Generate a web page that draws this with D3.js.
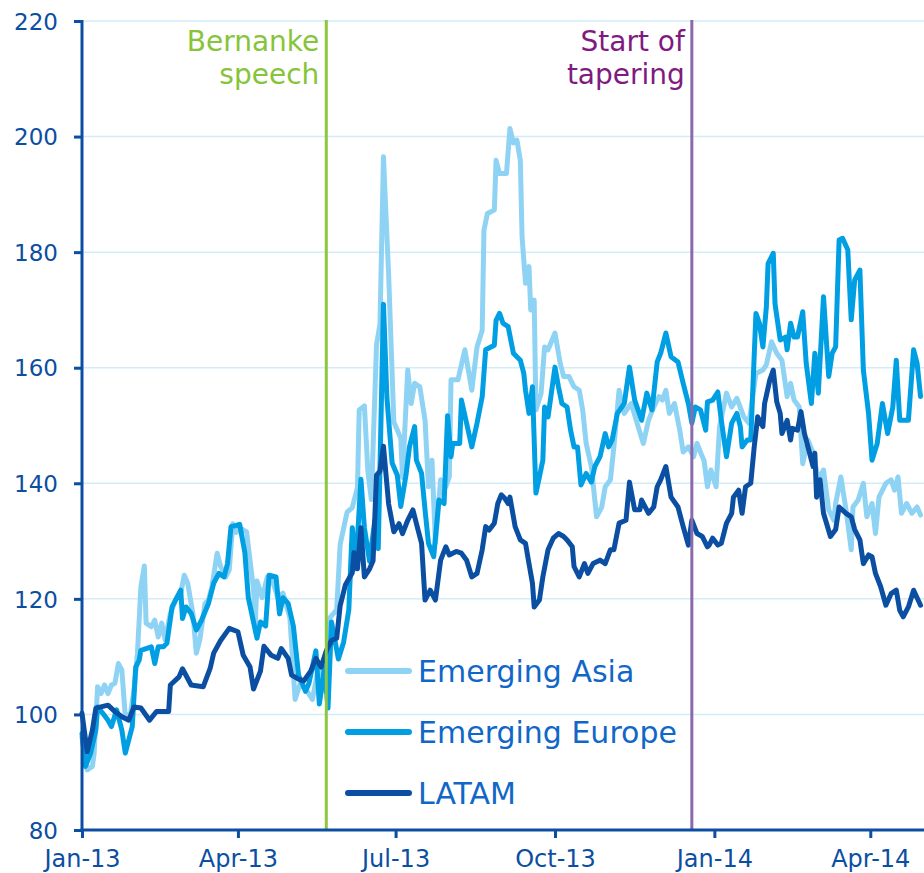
<!DOCTYPE html>
<html>
<head>
<meta charset="utf-8">
<script src="https://cdn.jsdelivr.net/npm/d3@7"></script>
<style>
  html, body { margin: 0; padding: 0; background: #ffffff; }
  svg { display: block; }
</style>
</head>
<body>
<div id="chart"></div>
<script>
// ---------------- DATA ----------------
const seriesNames = ["Emerging Asia", "Emerging Europe", "LATAM"];
const yTicks = [80, 100, 120, 140, 160, 180, 200, 220];
const xTickDates = ["2013-01-01", "2013-04-01", "2013-07-01", "2013-10-01", "2014-01-01", "2014-04-01"];
const events = [
  { date: "2013-05-22", lines: ["Bernanke", "speech"] },
  { date: "2013-12-19", lines: ["Start of", "tapering"] }
];

const emergingAsia = [
["2013-01-01",96.0],["2013-01-04",90.4],["2013-01-07",91.0],["2013-01-08",93.3],["2013-01-10",104.8],
["2013-01-12",103.6],["2013-01-14",105.1],["2013-01-16",103.6],["2013-01-18",105.1],["2013-01-20",105.4],
["2013-01-22",108.8],["2013-01-24",107.7],["2013-01-26",99.6],["2013-01-29",100.2],["2013-01-31",104.2],
["2013-02-02",110.6],["2013-02-04",122.1],["2013-02-06",125.7],["2013-02-07",115.8],["2013-02-10",115.2],
["2013-02-12",116.3],["2013-02-14",113.4],["2013-02-16",115.8],["2013-02-18",112.9],["2013-02-21",117.5],
["2013-02-24",119.8],["2013-02-27",121.0],["2013-03-01",124.1],["2013-03-03",122.7],["2013-03-06",117.5],
["2013-03-08",110.6],["2013-03-10",112.9],["2013-03-13",119.2],["2013-03-15",119.8],["2013-03-17",122.1],
["2013-03-20",127.9],["2013-03-22",125.6],["2013-03-25",123.8],["2013-03-27",125.0],["2013-03-29",133.0],
["2013-03-31",131.5],["2013-04-02",132.3],["2013-04-06",131.6],["2013-04-10",121.7],["2013-04-11",115.3],
["2013-04-12",123.1],["2013-04-15",120.2],["2013-04-18",123.8],["2013-04-21",123.1],["2013-04-24",120.2],
["2013-04-27",121.0],["2013-05-01",116.7],["2013-05-04",102.6],["2013-05-07",105.4],["2013-05-11",104.0],
["2013-05-14",102.6],["2013-05-18",108.9],["2013-05-21",104.0],["2013-05-24",116.7],["2013-05-28",118.1],
["2013-05-30",129.4],["2013-06-03",135.0],["2013-06-06",135.8],["2013-06-09",139.3],["2013-06-10",152.7],
["2013-06-13",153.4],["2013-06-15",142.1],["2013-06-17",137.2],["2013-06-20",164.0],["2013-06-22",167.6],
["2013-06-24",196.5],["2013-06-27",176.0],["2013-06-30",150.6],["2013-07-04",147.8],["2013-07-05",141.0],
["2013-07-08",159.6],["2013-07-10",153.8],["2013-07-12",157.3],["2013-07-15",156.7],["2013-07-18",150.9],
["2013-07-20",139.4],["2013-07-22",144.0],["2013-07-24",129.7],["2013-07-27",140.6],["2013-07-30",139.4],
["2013-08-01",141.1],["2013-08-02",157.9],["2013-08-06",157.9],["2013-08-10",163.1],["2013-08-14",156.1],
["2013-08-17",163.6],["2013-08-20",166.5],["2013-08-21",183.8],["2013-08-23",186.7],["2013-08-27",187.3],
["2013-08-28",195.9],["2013-08-30",193.6],["2013-09-03",193.6],["2013-09-05",201.4],["2013-09-07",198.9],
["2013-09-09",199.4],["2013-09-11",195.9],["2013-09-12",182.7],["2013-09-14",174.6],["2013-09-16",177.5],
["2013-09-17",170.0],["2013-09-19",171.7],["2013-09-20",152.7],["2013-09-23",155.6],["2013-09-25",163.6],
["2013-09-27",163.1],["2013-10-01",166.0],["2013-10-04",160.8],["2013-10-06",158.5],["2013-10-09",158.5],
["2013-10-12",156.7],["2013-10-15",156.1],["2013-10-17",152.7],["2013-10-19",146.9],["2013-10-22",142.9],
["2013-10-25",134.2],["2013-10-28",135.9],["2013-10-30",139.4],["2013-11-02",140.6],["2013-11-04",146.3],
["2013-11-07",156.1],["2013-11-10",152.1],["2013-11-14",153.8],["2013-11-18",149.8],["2013-11-21",146.9],
["2013-11-24",150.9],["2013-11-27",153.2],["2013-11-30",155.0],["2013-12-02",154.4],["2013-12-04",156.1],
["2013-12-06",152.1],["2013-12-09",153.8],["2013-12-12",149.2],["2013-12-14",145.4],["2013-12-17",146.3],
["2013-12-20",144.6],["2013-12-22",146.9],["2013-12-25",144.6],["2013-12-26",144.0],["2013-12-28",139.4],
["2013-12-30",142.3],["2014-01-02",139.4],["2014-01-04",149.8],["2014-01-08",155.6],["2014-01-11",153.2],
["2014-01-14",154.7],["2014-01-18",151.5],["2014-01-21",150.4],["2014-01-25",159.0],["2014-01-29",159.6],
["2014-01-31",160.5],["2014-02-03",164.5],["2014-02-06",162.5],["2014-02-09",161.3],["2014-02-12",155.0],
["2014-02-14",157.3],["2014-02-16",154.4],["2014-02-19",153.2],["2014-02-21",143.4],["2014-02-24",147.5],
["2014-02-27",145.2],["2014-03-02",140.6],["2014-03-05",142.3],["2014-03-08",135.4],["2014-03-11",133.6],
["2014-03-12",136.5],["2014-03-15",141.1],["2014-03-18",135.4],["2014-03-21",128.5],["2014-03-22",135.9],
["2014-03-25",137.1],["2014-03-28",140.0],["2014-03-30",134.2],["2014-04-02",136.5],["2014-04-04",131.3],
["2014-04-06",137.6],["2014-04-10",140.0],["2014-04-13",140.6],["2014-04-15",138.8],["2014-04-17",141.1],
["2014-04-19",134.8],["2014-04-22",136.5],["2014-04-25",134.8],["2014-04-28",135.9],["2014-04-30",134.5]
];

const emergingEurope = [
["2013-01-01",96.7],["2013-01-03",91.0],["2013-01-06",93.3],["2013-01-09",97.3],["2013-01-10",101.3],
["2013-01-13",100.2],["2013-01-16",99.0],["2013-01-18",97.9],["2013-01-21",100.8],["2013-01-24",97.3],
["2013-01-26",93.3],["2013-01-28",95.6],["2013-01-30",97.9],["2013-02-01",108.2],["2013-02-03",109.4],
["2013-02-04",111.1],["2013-02-07",111.4],["2013-02-10",111.7],["2013-02-12",108.8],["2013-02-14",111.7],
["2013-02-17",111.7],["2013-02-19",112.3],["2013-02-22",118.6],["2013-02-24",119.8],["2013-02-27",121.5],
["2013-02-28",116.6],["2013-03-02",118.6],["2013-03-05",117.5],["2013-03-08",114.6],["2013-03-11",116.3],
["2013-03-15",119.2],["2013-03-18",122.7],["2013-03-21",124.4],["2013-03-24",123.8],["2013-03-26",126.1],
["2013-03-28",132.5],["2013-03-31",132.7],["2013-04-02",132.9],["2013-04-05",128.0],["2013-04-07",120.2],
["2013-04-09",117.4],["2013-04-12",113.2],["2013-04-14",116.0],["2013-04-17",115.3],["2013-04-19",124.1],
["2013-04-23",123.8],["2013-04-25",117.4],["2013-04-27",120.2],["2013-04-30",119.2],["2013-05-03",115.3],
["2013-05-06",106.8],["2013-05-10",104.0],["2013-05-12",105.4],["2013-05-16",111.0],["2013-05-18",101.8],
["2013-05-21",108.2],["2013-05-23",101.1],["2013-05-25",116.0],["2013-05-29",109.6],["2013-06-01",112.5],
["2013-06-04",118.1],["2013-06-06",132.3],["2013-06-08",125.2],["2013-06-11",140.7],["2013-06-13",132.3],
["2013-06-16",126.5],["2013-06-19",133.6],["2013-06-21",128.7],["2013-06-24",171.0],["2013-06-26",154.8],
["2013-06-29",143.5],["2013-07-02",141.4],["2013-07-04",136.0],["2013-07-07",141.4],["2013-07-09",146.3],
["2013-07-12",149.8],["2013-07-13",144.0],["2013-07-16",141.7],["2013-07-18",135.4],["2013-07-20",129.6],
["2013-07-23",127.3],["2013-07-26",137.1],["2013-07-29",136.5],["2013-07-31",151.7],["2013-08-02",144.6],
["2013-08-03",146.9],["2013-08-07",146.9],["2013-08-08",154.4],["2013-08-11",150.4],["2013-08-14",146.3],
["2013-08-17",150.4],["2013-08-20",155.0],["2013-08-22",163.1],["2013-08-27",163.9],["2013-08-28",168.2],
["2013-08-30",169.4],["2013-09-01",167.7],["2013-09-04",167.1],["2013-09-07",162.5],["2013-09-11",161.3],
["2013-09-13",159.0],["2013-09-14",156.1],["2013-09-16",152.1],["2013-09-18",156.7],["2013-09-20",138.3],
["2013-09-22",141.1],["2013-09-24",144.0],["2013-09-25",153.2],["2013-09-27",151.5],["2013-10-01",160.1],
["2013-10-03",156.7],["2013-10-05",153.8],["2013-10-08",153.2],["2013-10-10",149.2],["2013-10-12",146.3],
["2013-10-14",146.3],["2013-10-16",139.7],["2013-10-19",141.7],["2013-10-22",140.2],["2013-10-24",142.9],
["2013-10-27",144.6],["2013-10-30",148.6],["2013-11-01",146.3],["2013-11-03",147.5],["2013-11-06",152.1],
["2013-11-10",153.8],["2013-11-13",160.1],["2013-11-16",154.4],["2013-11-20",150.9],["2013-11-23",155.6],
["2013-11-26",152.7],["2013-11-29",161.0],["2013-12-01",162.5],["2013-12-04",166.0],["2013-12-07",161.9],
["2013-12-11",161.0],["2013-12-14",157.3],["2013-12-17",153.8],["2013-12-19",150.4],["2013-12-21",153.2],
["2013-12-24",152.7],["2013-12-27",149.2],["2013-12-28",154.1],["2013-12-31",154.4],["2014-01-03",155.8],
["2014-01-05",150.9],["2014-01-08",144.6],["2014-01-11",150.4],["2014-01-14",152.1],["2014-01-16",149.8],
["2014-01-17",146.3],["2014-01-20",147.5],["2014-01-22",147.5],["2014-01-25",169.4],["2014-01-27",167.7],
["2014-01-29",163.6],["2014-01-31",170.5],["2014-02-01",178.0],["2014-02-04",179.8],["2014-02-05",171.1],
["2014-02-08",164.8],["2014-02-11",165.3],["2014-02-12",163.1],["2014-02-14",167.7],["2014-02-16",165.3],
["2014-02-18",165.3],["2014-02-21",169.7],["2014-02-23",160.8],["2014-02-26",153.8],["2014-02-28",162.5],
["2014-03-02",155.6],["2014-03-05",172.3],["2014-03-08",158.5],["2014-03-10",162.5],["2014-03-12",163.6],
["2014-03-14",182.1],["2014-03-16",182.4],["2014-03-19",180.4],["2014-03-21",168.3],["2014-03-23",175.2],
["2014-03-26",176.9],["2014-03-28",159.6],["2014-03-31",152.1],["2014-04-02",144.0],["2014-04-05",146.9],
["2014-04-08",153.8],["2014-04-11",148.6],["2014-04-14",153.2],["2014-04-16",161.3],["2014-04-18",150.9],
["2014-04-23",150.9],["2014-04-26",163.1],["2014-04-28",160.8],["2014-04-30",155.0]
];

const latam = [
["2013-01-01",100.2],["2013-01-04",93.5],["2013-01-07",97.3],["2013-01-09",101.1],["2013-01-16",101.6],
["2013-01-20",100.5],["2013-01-24",99.6],["2013-01-28",99.0],["2013-01-31",101.3],["2013-02-04",101.1],
["2013-02-09",99.0],["2013-02-13",100.5],["2013-02-20",100.5],["2013-02-21",105.1],["2013-02-26",106.5],
["2013-02-28",107.9],["2013-03-05",105.1],["2013-03-12",104.8],["2013-03-16",108.0],["2013-03-18",110.6],
["2013-03-22",112.8],["2013-03-27",114.9],["2013-04-01",114.3],["2013-04-04",110.3],["2013-04-08",108.2],
["2013-04-10",104.4],["2013-04-14",107.5],["2013-04-16",111.8],["2013-04-20",110.3],["2013-04-24",109.7],
["2013-04-26",111.4],["2013-04-30",109.7],["2013-05-02",106.8],["2013-05-06",106.1],["2013-05-09",105.8],
["2013-05-13",107.5],["2013-05-16",109.7],["2013-05-19",108.2],["2013-05-22",111.0],["2013-05-25",112.8],
["2013-05-28",113.2],["2013-05-30",118.8],["2013-06-02",122.4],["2013-06-06",124.5],["2013-06-07",128.0],
["2013-06-09",125.2],["2013-06-11",132.3],["2013-06-13",123.8],["2013-06-16",125.2],["2013-06-18",126.6],
["2013-06-20",141.4],["2013-06-22",142.1],["2013-06-24",146.4],["2013-06-27",136.4],["2013-06-30",131.6],
["2013-07-03",133.0],["2013-07-05",131.3],["2013-07-08",133.6],["2013-07-11",135.4],["2013-07-14",131.9],
["2013-07-16",129.6],["2013-07-18",119.8],["2013-07-21",121.5],["2013-07-24",119.8],["2013-07-27",126.7],
["2013-07-30",129.0],["2013-08-01",127.6],["2013-08-05",128.2],["2013-08-08",127.9],["2013-08-11",126.7],
["2013-08-14",123.8],["2013-08-17",124.4],["2013-08-20",128.5],["2013-08-22",132.5],["2013-08-24",131.9],
["2013-08-27",133.1],["2013-08-29",136.5],["2013-08-31",138.0],["2013-09-02",137.4],["2013-09-04",136.5],
["2013-09-05",137.6],["2013-09-08",132.5],["2013-09-11",130.2],["2013-09-14",129.6],["2013-09-16",126.1],
["2013-09-18",122.7],["2013-09-19",118.6],["2013-09-22",119.8],["2013-09-24",123.8],["2013-09-27",128.5],
["2013-09-30",130.5],["2013-10-03",131.3],["2013-10-06",130.8],["2013-10-08",130.2],["2013-10-11",129.0],
["2013-10-12",125.6],["2013-10-15",123.8],["2013-10-18",126.1],["2013-10-20",124.4],["2013-10-23",126.1],
["2013-10-27",126.7],["2013-10-30",126.1],["2013-11-02",128.5],["2013-11-04",128.5],["2013-11-07",133.1],
["2013-11-11",133.6],["2013-11-13",140.2],["2013-11-16",135.4],["2013-11-19",135.4],["2013-11-20",137.1],
["2013-11-24",134.8],["2013-11-27",135.9],["2013-11-29",139.4],["2013-12-01",140.6],["2013-12-04",142.9],
["2013-12-07",137.6],["2013-12-11",135.9],["2013-12-14",132.5],["2013-12-17",129.3],["2013-12-19",133.6],
["2013-12-22",131.3],["2013-12-25",130.8],["2013-12-28",129.0],["2013-12-29",129.3],["2013-12-31",130.5],
["2014-01-03",129.3],["2014-01-05",129.6],["2014-01-08",133.1],["2014-01-11",134.8],["2014-01-12",137.6],
["2014-01-15",138.8],["2014-01-17",134.8],["2014-01-19",139.4],["2014-01-22",140.0],["2014-01-24",146.3],
["2014-01-26",151.5],["2014-01-29",149.8],["2014-01-30",153.8],["2014-02-02",157.9],["2014-02-04",159.6],
["2014-02-06",154.1],["2014-02-08",152.1],["2014-02-09",148.6],["2014-02-12",150.9],["2014-02-14",147.5],
["2014-02-15",149.5],["2014-02-18",149.2],["2014-02-20",152.4],["2014-02-22",148.6],["2014-02-25",145.2],
["2014-02-27",142.9],["2014-02-28",145.2],["2014-03-01",137.6],["2014-03-03",140.6],["2014-03-05",134.8],
["2014-03-09",130.8],["2014-03-12",132.0],["2014-03-14",135.9],["2014-03-18",134.8],["2014-03-21",134.2],
["2014-03-23",132.0],["2014-03-26",130.2],["2014-03-28",126.1],["2014-03-31",127.6],["2014-04-02",127.3],
["2014-04-04",124.4],["2014-04-07",122.1],["2014-04-10",118.9],["2014-04-13",120.9],["2014-04-16",121.5],
["2014-04-18",118.0],["2014-04-20",116.9],["2014-04-23",118.6],["2014-04-26",121.5],["2014-04-30",118.9]
];

// ---------------- CHART ----------------
const W = 924, H = 873;
const parse = d3.timeParse("%Y-%m-%d");
const colors = ["#8fd3f4", "#009fe3", "#0b4fa3"];
const axisColor = "#0b4ea2";
const gridColor = "#d2ecf8";

const svg = d3.select("#chart").append("svg")
  .attr("width", W).attr("height", H)
  .style("background", "#fff");

const x = d3.scaleTime()
  .domain([parse("2013-01-01"), parse("2014-05-02")])
  .range([82, 924]);
const y = d3.scaleLinear().domain([80, 220]).range([830, 21]);

// grid
svg.append("g").selectAll("line")
  .data(yTicks.filter(v => v > 80))
  .join("line")
  .attr("x1", 82).attr("x2", W)
  .attr("y1", d => y(d)).attr("y2", d => y(d))
  .attr("stroke", gridColor).attr("stroke-width", 1.5);

// series lines
const line = d3.line()
  .x(d => x(parse(d[0])))
  .y(d => y(d[1]))
  .curve(d3.curveLinear);

const allSeries = [emergingAsia, emergingEurope, latam];
svg.append("g").selectAll("path")
  .data(allSeries)
  .join("path")
  .attr("d", d => line(d))
  .attr("fill", "none")
  .attr("stroke", (d, i) => colors[i])
  .attr("stroke-width", 5)
  .attr("stroke-linejoin", "round")
  .attr("stroke-linecap", "round");

// event lines + labels
const evColors = [
  { line: "#8dc63f", text: "#86c43a" },
  { line: "#8a6aab", text: "#7f1a80" }
];
const evG = svg.append("g");
events.forEach((ev, i) => {
  const ex = x(parse(ev.date));
  evG.append("line")
    .attr("x1", ex).attr("x2", ex).attr("y1", 20).attr("y2", 830)
    .attr("stroke", evColors[i].line).attr("stroke-width", 3);
  const t = evG.append("text")
    .attr("text-anchor", "end")
    .attr("font-family", "DejaVu Sans, Verdana, sans-serif")
    .attr("font-size", 28)
    .attr("fill", evColors[i].text);
  ev.lines.forEach((s, k) => {
    t.append("tspan").attr("x", ex - 7).attr("y", k === 0 ? 51 : 84).text(s);
  });
});

// y axis
const yAxis = svg.append("g").attr("transform", "translate(82,0)")
  .call(d3.axisLeft(y).tickValues(yTicks).tickSize(8).tickSizeOuter(0).tickPadding(16));
yAxis.select(".domain").attr("stroke", axisColor).attr("stroke-width", 3)
  .attr("d", `M0,${20}V${830}`);
yAxis.selectAll(".tick line").attr("stroke", axisColor).attr("stroke-width", 3);
yAxis.selectAll(".tick text")
  .attr("font-family", "DejaVu Sans, Verdana, sans-serif")
  .attr("font-size", 23).attr("fill", axisColor).attr("dy", "0.36em");

// x axis
const xAxis = svg.append("g").attr("transform", "translate(0,830)")
  .call(d3.axisBottom(x).tickValues(xTickDates.map(parse))
    .tickFormat(d3.timeFormat("%b-%y")).tickSize(8).tickSizeOuter(0));
xAxis.select(".domain").attr("stroke", axisColor).attr("stroke-width", 3)
  .attr("d", `M80.5,0H${W}`);
xAxis.selectAll(".tick line").attr("stroke", axisColor).attr("stroke-width", 3);
xAxis.selectAll(".tick text")
  .attr("font-family", "DejaVu Sans, Verdana, sans-serif")
  .attr("font-size", 24).attr("fill", axisColor)
  .attr("y", 37).attr("dy", 0);

// legend
const legend = svg.append("g");
const legendY = [671, 732, 793];
seriesNames.forEach((name, i) => {
  legend.append("line")
    .attr("x1", 348).attr("x2", 409)
    .attr("y1", legendY[i]).attr("y2", legendY[i])
    .attr("stroke", colors[i]).attr("stroke-width", 6)
    .attr("stroke-linecap", "round");
  legend.append("text")
    .attr("x", 418).attr("y", legendY[i] + 11)
    .attr("font-family", "DejaVu Sans, Verdana, sans-serif")
    .attr("font-size", 30)
    .attr("fill", "#1167c8")
    .text(name);
});
</script>
</body>
</html>
